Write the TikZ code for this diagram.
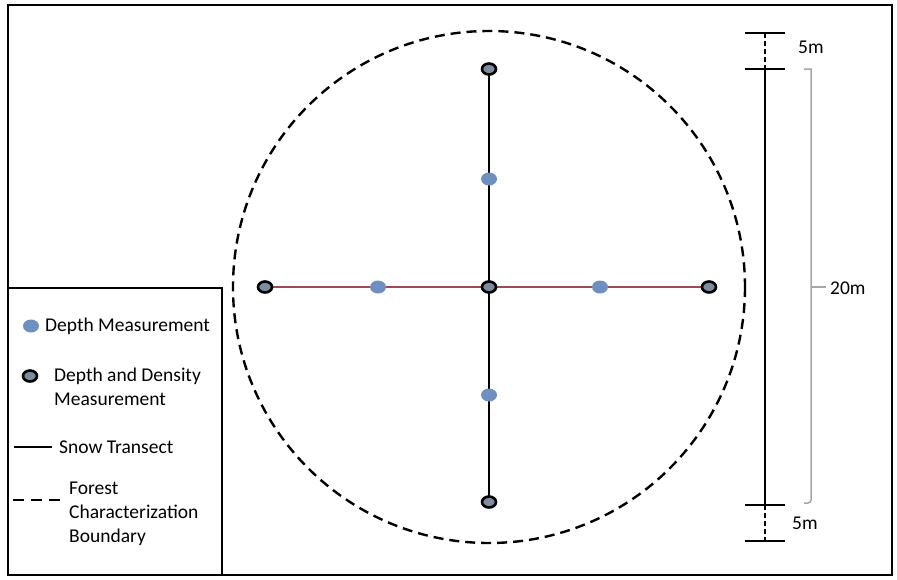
\documentclass[tikz,border=0pt]{standalone}
\usepackage{fontspec}
\setmainfont{Carlito}
\begin{document}
\begin{tikzpicture}[x=1pt,y=-1pt,
  dd/.style={fill=ddfill,draw=black,line width=2.6pt},
  lbl/.style={font=\fontsize{19.5}{24}\selectfont,inner sep=0pt,anchor=west,align=left}]
\definecolor{dotblue}{HTML}{6F8FBF}
\definecolor{ddfill}{HTML}{7E8CA0}
\definecolor{transred}{HTML}{9A4A5A}
\useasboundingbox (0,0) rectangle (897,579);
% outer frame
\draw[line width=2pt] (8,5) rectangle (892,575);
% forest boundary
\draw[line width=2.4pt,dash pattern=on 10pt off 6pt] (489,287) circle[radius=256];
% transects
\coordinate (t) at (489,69);
\coordinate (b) at (489,502);
\coordinate (l) at (265,287);
\coordinate (r) at (709,287);
\draw[transred,line width=1.3pt] (l) -- (r);
\draw[line width=1.5pt] (t) -- (b);
% points
\foreach \p in {{489,179},{489,395},{378,287},{600,287}}
  \fill[dotblue] (\p) ellipse[x radius=8, y radius=6.5];
\foreach \p in {{489,69},{489,502},{265,287},{709,287},{489,287}}
  \filldraw[dd] (\p) ellipse[x radius=7, y radius=5.5];
% scale
\coordinate (s1) at (765,33);
\coordinate (s2) at (765,69);
\coordinate (s3) at (765,505);
\coordinate (s4) at (765,541);
\draw[line width=1.5pt] (s2) -- (s3);
\draw[line width=1.5pt,dash pattern=on 5pt off 3pt] (s1) -- (s2);
\draw[line width=1.5pt,dash pattern=on 5pt off 3pt] (s3) -- (s4);
\foreach \c in {s1,s2,s3,s4}
  \draw[line width=1.5pt] ([xshift=-20]\c) -- ([xshift=20]\c);
\node[lbl] (m1) at (798,47) {5m};
\node[lbl] (m2) at (792,523) {5m};
% bracket
\coordinate (k1) at (804,69);
\coordinate (k2) at (804,503);
\draw[gray!70,line width=1.5pt] (k1) -- ++(7,0) [rounded corners=3pt] -- (811,287) -- (811,503) [sharp corners] -- (k2);
\draw[gray!70,line width=1.5pt] (811,287) -- (826,287);
\node[lbl] (m3) at (830,288) {20m};
% legend
\draw[line width=2pt] (8,288) rectangle (222,575);
\fill[dotblue] (31,326) ellipse[x radius=8, y radius=6.5];
\node[lbl] (L1) at (45,326) {Depth Measurement};
\filldraw[dd] (30,376) ellipse[x radius=7, y radius=5.5];
\node[lbl] (L2) at (54,387) {Depth and Density\\Measurement};
\draw[line width=1.2pt] (14,447) -- (52,447);
\node[lbl] (L3) at (59,447) {Snow Transect};
\draw[line width=2pt,dash pattern=on 11pt off 7pt] (13,500) -- (60,500);
\node[lbl] (L4) at (69,514) {Forest\\Characterization\\Boundary};
\end{tikzpicture}
\end{document}
